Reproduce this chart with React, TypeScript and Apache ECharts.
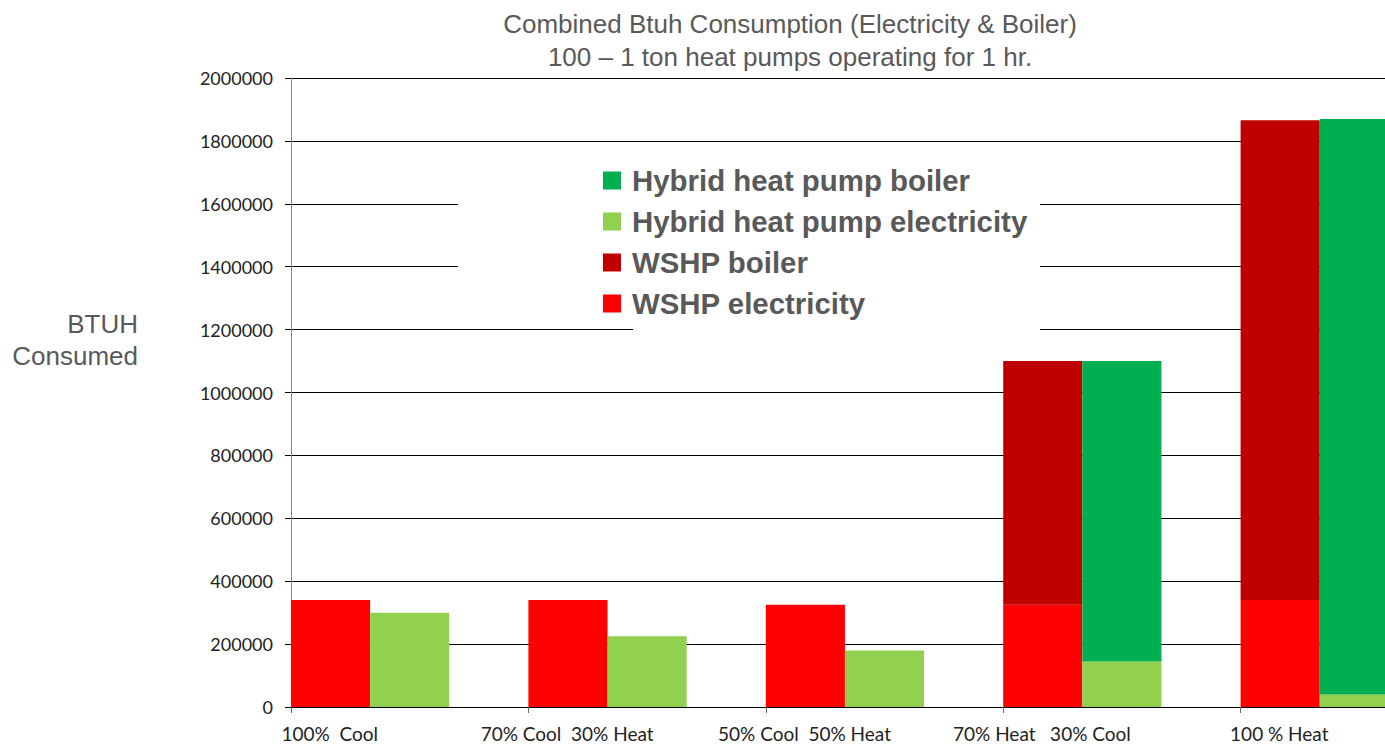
import React, { useEffect, useRef } from "react";
import * as echarts from "echarts";

const categories = ["100%  Cool", "70% Cool  30% Heat", "50% Cool  50% Heat", "70% Heat   30% Cool", "100 % Heat"];
const wshpElectricity = [340000, 340000, 325000, 325000, 340000];
const wshpBoiler = [0, 0, 0, 775000, 1526000];
const hybridElectricity = [300000, 225000, 180000, 145000, 40000];
const hybridBoiler = [0, 0, 0, 955000, 1830000];
const padding = [0, 0, 0, 0, 0];
const legendNames = ["Hybrid heat pump boiler", "Hybrid heat pump electricity", "WSHP boiler", "WSHP electricity"];
const titleLines = ["Combined Btuh Consumption (Electricity & Boiler)", "100 \u2013 1 ton heat pumps operating for 1 hr."];
const yTitleLines = ["BTUH", "Consumed"];

export default function App() {
  const ref = useRef<HTMLDivElement>(null);
  useEffect(() => {
    document.body.style.margin = "0";
    const chart = echarts.init(ref.current!, null, { renderer: "svg" });
    const gray = "#595959";
    chart.setOption({
      animation: false,
      backgroundColor: "#fff",
      grid: { left: 291, top: 78, right: 22, bottom: 37 },
      legend: {
        orient: "vertical",
        left: 598,
        top: 161,
        itemWidth: 18,
        itemHeight: 18,
        itemGap: 12,
        icon: "rect",
        data: legendNames,
        textStyle: {
          fontFamily: "Liberation Sans",
          fontWeight: "bold",
          fontSize: 29.4,
          lineHeight: 29,
          color: gray,
          padding: [0, 0, 0, 6],
        },
      },
      graphic: [
        { type: "rect", z: 1, shape: { x: 458, y: 190, width: 582, height: 110 }, style: { fill: "#fff" } },
        { type: "rect", z: 1, shape: { x: 633, y: 318, width: 407, height: 18 }, style: { fill: "#fff" } },
        {
          type: "text", x: 790, y: 24,
          style: { text: titleLines[0], fill: gray, font: "26px 'Liberation Sans'", align: "center", verticalAlign: "middle" },
        },
        {
          type: "text", x: 790, y: 57,
          style: { text: titleLines[1], fill: gray, font: "26px 'Liberation Sans'", align: "center", verticalAlign: "middle" },
        },
        {
          type: "text", x: 138, y: 324,
          style: { text: yTitleLines[0], fill: gray, font: "26px 'Liberation Sans'", align: "right", verticalAlign: "middle" },
        },
        {
          type: "text", x: 138, y: 356,
          style: { text: yTitleLines[1], fill: gray, font: "26px 'Liberation Sans'", align: "right", verticalAlign: "middle" },
        },
      ],
      xAxis: {
        type: "category",
        data: categories,
        boundaryGap: true,
        z: 5,
        axisLine: { lineStyle: { color: "#000", width: 1 } },
        axisTick: { show: true, interval: 0, length: 6, lineStyle: { color: "#666" } },
        axisLabel: {
          interval: 0,
          margin: 17,
          fontFamily: "Lato",
          fontSize: 19,
          color: "#222",
          align: "center",
          padding: [0, 160, 0, 0],
        },
      },
      yAxis: {
        type: "value",
        min: 0,
        max: 2000000,
        interval: 200000,
        axisLine: { show: true, lineStyle: { color: "#888" } },
        axisTick: { show: true, length: 6, lineStyle: { color: "#000" } },
        splitLine: { show: true, lineStyle: { color: "#000", width: 1 } },
        axisLabel: { margin: 18, fontFamily: "Lato", fontSize: 18, color: "#222", formatter: (v: number) => String(v) },
      },
      series: [
        { name: "WSHP electricity", type: "bar", stack: "w", data: wshpElectricity, itemStyle: { color: "#FF0000" }, barGap: "0%", barCategoryGap: "0%" },
        { name: "WSHP boiler", type: "bar", stack: "w", data: wshpBoiler, itemStyle: { color: "#C00000" } },
        { name: "Hybrid heat pump electricity", type: "bar", stack: "h", data: hybridElectricity, itemStyle: { color: "#92D050" } },
        { name: "Hybrid heat pump boiler", type: "bar", stack: "h", data: hybridBoiler, itemStyle: { color: "#00B050" } },
        { name: "pad", type: "bar", stack: "p", data: padding, itemStyle: { color: "rgba(0,0,0,0)" } },
      ],
    });
    return () => chart.dispose();
  }, []);
  return (
    <div style={{ width: 1385, height: 744, overflow: "hidden", position: "relative" }}>
      <div ref={ref} style={{ width: 1500, height: 744 }} />
    </div>
  );
}
